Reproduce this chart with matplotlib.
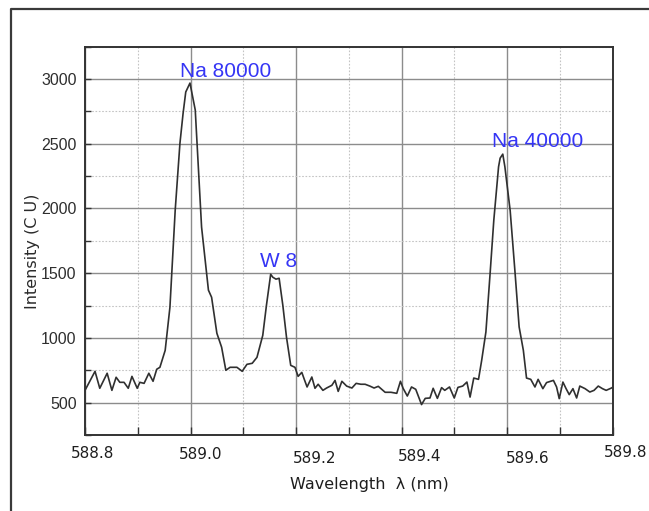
import matplotlib
matplotlib.use("Agg")
import matplotlib.pyplot as plt
from matplotlib.lines import Line2D
from matplotlib.ticker import MultipleLocator

# spectrum around the Na D lines
wavelength = [588.800, 588.819, 588.828, 588.842, 588.851, 588.859, 588.866, 588.874,
              588.882, 588.889, 588.899, 588.904, 588.912, 588.921, 588.929, 588.936,
              588.942, 588.952, 588.961, 588.971, 588.980, 588.986, 588.991, 588.999,
              589.009, 589.021, 589.034, 589.040, 589.050, 589.059, 589.067, 589.075,
              589.088, 589.098, 589.107, 589.117, 589.126, 589.137, 589.144, 589.152,
              589.156, 589.162, 589.168, 589.175, 589.182, 589.190, 589.198, 589.204,
              589.211, 589.215, 589.221, 589.230, 589.236, 589.242, 589.251, 589.258,
              589.268, 589.274, 589.280, 589.287, 589.296, 589.306, 589.314, 589.323,
              589.331, 589.340, 589.348, 589.356, 589.369, 589.380, 589.391, 589.398,
              589.403, 589.411, 589.419, 589.427, 589.438, 589.445, 589.454, 589.460,
              589.468, 589.476, 589.482, 589.491, 589.500, 589.507, 589.516, 589.524,
              589.530, 589.537, 589.546, 589.552, 589.560, 589.568, 589.575, 589.584,
              589.587, 589.592, 589.596, 589.606, 589.615, 589.623, 589.631, 589.637,
              589.645, 589.653, 589.659, 589.668, 589.675, 589.688, 589.694, 589.699,
              589.706, 589.712, 589.718, 589.725, 589.732, 589.738, 589.748, 589.757,
              589.765, 589.773, 589.781, 589.788, 589.798, 589.800]
intensity = [595, 742, 611, 727, 595, 696, 657, 657,
             611, 703, 611, 657, 649, 727, 665, 758,
             773, 904, 1237, 1987, 2505, 2737, 2900, 2969,
             2761, 1856, 1369, 1314, 1036, 928, 750, 773,
             773, 742, 796, 804, 850, 1020, 1253, 1492,
             1469, 1454, 1461, 1253, 1005, 788, 773, 703,
             734, 688, 621, 698, 611, 642, 595, 613,
             634, 672, 587, 665, 628, 613, 649, 642,
             642, 628, 613, 626, 580, 580, 572, 665,
             611, 551, 621, 603, 485, 533, 536, 611,
             533, 616, 595, 621, 536, 618, 628, 659,
             543, 690, 680, 827, 1046, 1500, 1910, 2322,
             2389, 2420, 2322, 1984, 1518, 1085, 904, 690,
             680, 621, 680, 608, 655, 672, 621, 531,
             659, 608, 562, 608, 536, 628, 608, 582,
             595, 628, 608, 595, 613, 618]

# emission line labels
line_names = ["Na 80000", "W 8", "Na 40000"]
line_x = [589.067, 589.166, 589.659]
line_y = [3013, 1549, 2472]

xtick_values = [588.8, 589.0, 589.2, 589.4, 589.6, 589.8]
xtick_labels = ["588.8", "589.0", "589.2", "589.4", "589.6", "589.8"]
# the tick labels are not quite lined up under their ticks
xtick_dx = [8, 10, 19, 18, 21, 13]
xtick_dy = [-23, -24, -28, -26, -28, -22]

fig = plt.figure(figsize=(6.49, 5.11), dpi=100)
ax = fig.add_axes([85 / 649, 76 / 511, 527.5 / 649, 388.3 / 511])

ax.plot(wavelength, intensity, color="#303030", lw=1.2)

ax.set_xlim(588.8, 589.8)
ax.set_ylim(250, 3250)
ax.xaxis.set_major_locator(MultipleLocator(0.2))
ax.xaxis.set_minor_locator(MultipleLocator(0.1))
ax.yaxis.set_major_locator(MultipleLocator(500))
ax.yaxis.set_minor_locator(MultipleLocator(250))
ax.set_yticks([500, 1000, 1500, 2000, 2500, 3000])

ax.grid(True, which="major", color="#8c8c8c", lw=1.0, ls="-")
ax.grid(True, which="minor", color="#c4c4c4", lw=0.8, ls=(0, (1.5, 1.5)))
ax.set_axisbelow(True)

ax.tick_params(which="both", direction="in", color="#333333", width=1.0)
ax.tick_params(axis="x", which="both", length=6, labelbottom=False)
ax.tick_params(axis="y", which="both", length=4, pad=6, labelsize=11.5,
               labelcolor="#2e2e2e")
for lab in ax.get_yticklabels():
    lab.set_fontfamily("Liberation Sans")
for sp in ax.spines.values():
    sp.set_color("#333333")
    sp.set_linewidth(1.4)

for v, s, dx, dy in zip(xtick_values, xtick_labels, xtick_dx, xtick_dy):
    ax.annotate(s, xy=(v, 0), xycoords=("data", "axes fraction"),
                xytext=(dx, dy), textcoords="offset pixels",
                ha="center", va="baseline", fontsize=11, color="#1e1e1e",
                family="DejaVu Sans", annotation_clip=False)

for name, x, y in zip(line_names, line_x, line_y):
    ax.text(x, y, name, ha="center", va="baseline", fontsize=15,
            color="#3535f5", family="Liberation Sans")

fig.text(33 / 649, 1 - 251 / 511, "Intensity (C U)", rotation=90,
         ha="center", va="center", fontsize=11.5, color="#2a2a2a")
fig.text(369 / 649, 1 - 484 / 511, "Wavelength  λ (nm)",
         ha="center", va="center", fontsize=11.5, color="#1e1e1e")

# outer panel border
fig.add_artist(Line2D([11 / 649, 11 / 649, 1.0], [0.0, 1 - 9 / 511, 1 - 9 / 511],
                      transform=fig.transFigure, color="#3a3a3a", lw=1.6))

fig.savefig("out.png", dpi=100)
